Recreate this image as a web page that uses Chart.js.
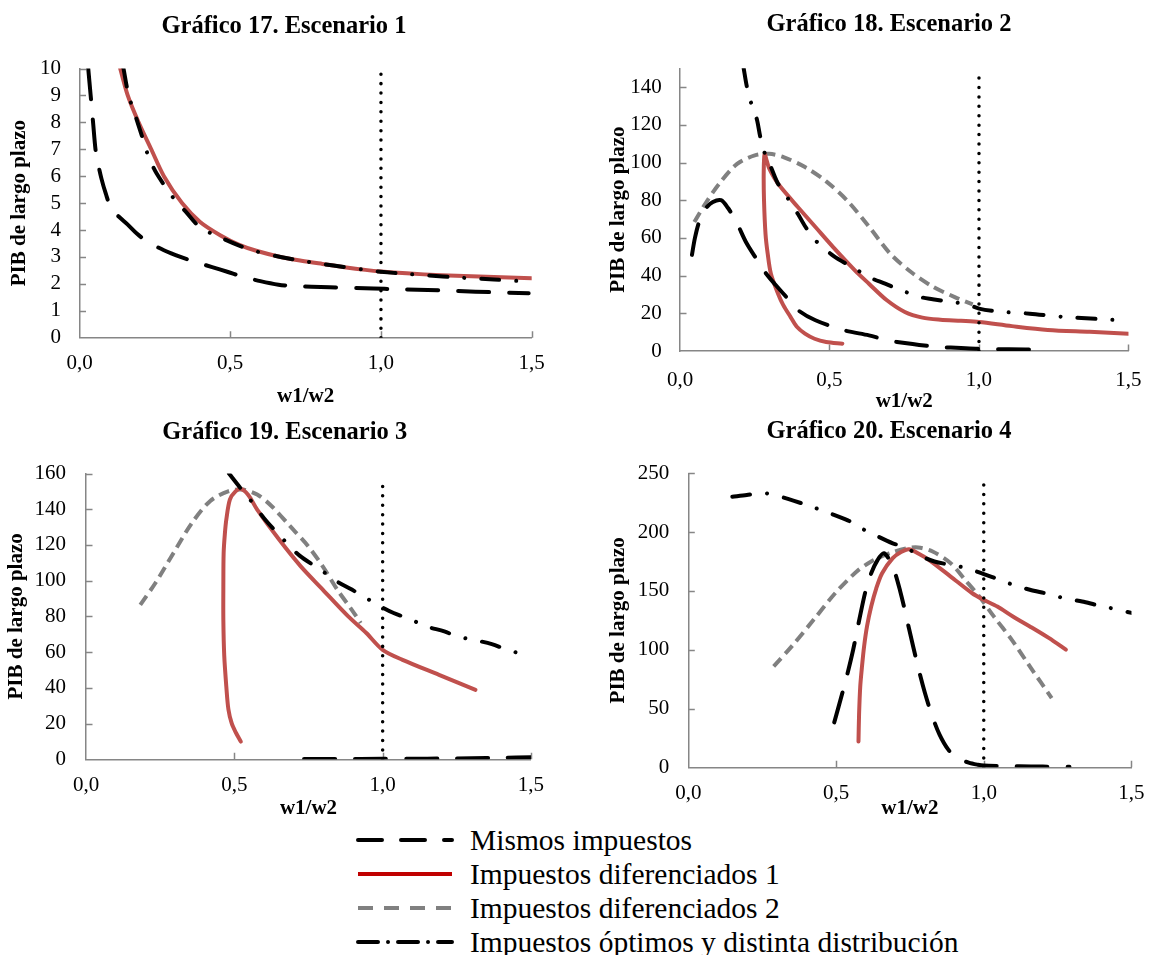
<!DOCTYPE html>
<html lang="es">
<head>
<meta charset="utf-8">
<title>PIB de largo plazo por escenario</title>
<script src="https://cdn.jsdelivr.net/npm/chart.js@4/dist/chart.umd.min.js"></script>
<style>
  html, body { margin: 0; padding: 0; background: #ffffff; }
  #page { position: relative; width: 1158px; height: 955px; overflow: hidden; }
  #page > canvas { position: absolute; }
  .leg-row { position: absolute; left: 356px; width: 760px; height: 34px; white-space: nowrap; }
  .leg-row canvas { position: absolute; left: 0; top: 11px; }
  .leg-row span { position: absolute; left: 114px; top: 0; font: 29.5px/34px "Liberation Serif", "Times New Roman", serif; color: #000; }
</style>
</head>
<body>
<div id="page"></div>
<script>
// ---- values (w1/w2, PIB de largo plazo) ----
const titles = ['Gráfico 17. Escenario 1', 'Gráfico 18. Escenario 2', 'Gráfico 19. Escenario 3', 'Gráfico 20. Escenario 4'];
const seriesNames = ['Mismos impuestos', 'Impuestos diferenciados 1', 'Impuestos diferenciados 2', 'Impuestos óptimos y distinta distribución'];

const xTicks = [0, 0.5, 1.0, 1.5];
const yTicks17 = [0, 1, 2, 3, 4, 5, 6, 7, 8, 9, 10];
const yTicks18 = [0, 20, 40, 60, 80, 100, 120, 140];
const yTicks19 = [0, 20, 40, 60, 80, 100, 120, 140, 160];
const yTicks20 = [0, 50, 100, 150, 200, 250];
const yMax = [10, 150, 160, 250];
const dotTop = [10, 148, 156, 245];   // top of the w1/w2 = 1 reference line

// Escenario 1
const mismos17 = [[0.029,10],[0.033,9.5],[0.037,9],[0.041,8.5],[0.045,8],[0.053,7],[0.059,6.6],[0.073,5.9],[0.087,5.36],[0.105,4.8],[0.13,4.5],[0.16,4.2],[0.19,3.87],[0.226,3.56],[0.28,3.25],[0.335,3.0],[0.383,2.82],[0.44,2.62],[0.49,2.45],[0.54,2.27],[0.60,2.1],[0.66,1.97],[0.71,1.92],[0.83,1.87],[0.976,1.83],[1.048,1.8],[1.193,1.76],[1.314,1.71],[1.49,1.65]];
const dif1_17 = [[0.135,10],[0.16,9],[0.196,8],[0.238,7],[0.28,6],[0.34,5],[0.40,4.3],[0.468,3.8],[0.53,3.45],[0.589,3.22],[0.667,3.0],[0.736,2.86],[0.806,2.74],[0.879,2.62],[0.948,2.52],[1.0,2.46],[1.085,2.39],[1.2,2.32],[1.35,2.26],[1.5,2.21]];
const optimos17 = [[0.146,10],[0.163,9.0],[0.184,8.3],[0.208,7.46],[0.23,6.7],[0.256,6.1],[0.311,5.2],[0.351,4.7],[0.40,4.1],[0.468,3.72],[0.53,3.42],[0.589,3.2],[0.667,3.0],[0.736,2.86],[0.806,2.74],[0.879,2.62],[0.948,2.52],[1.0,2.45],[1.085,2.37],[1.16,2.31],[1.25,2.24],[1.375,2.16],[1.5,2.08]];

// Escenario 2
const mismos18 = [[0.04,51],[0.05,60],[0.065,69],[0.085,75.5],[0.11,79],[0.137,80],[0.16,76],[0.19,68],[0.22,58],[0.255,49],[0.286,41.5],[0.32,35],[0.346,30.4],[0.394,21.8],[0.453,16.3],[0.549,11],[0.632,8.3],[0.70,5.5],[0.752,4.2],[0.80,3.2],[0.871,2.1],[0.94,1.6],[1.0,1.2],[1.1,0.9],[1.21,0.7]];
const dif1_18 = [[0.543,3.9],[0.489,4.8],[0.45,6.5],[0.418,9.2],[0.39,13],[0.37,18],[0.345,24.5],[0.328,30.4],[0.304,41],[0.293,52],[0.286,62.2],[0.281,80],[0.28,95],[0.283,104.5],[0.29,101],[0.298,97],[0.315,92],[0.334,87.5],[0.394,76.4],[0.453,65.8],[0.513,55],[0.585,42.8],[0.632,35.7],[0.692,26.9],[0.752,20.7],[0.811,17.7],[0.871,16.6],[0.94,16],[1.0,15.4],[1.11,13.2],[1.23,11.2],[1.37,10.2],[1.5,9.2]];
const dif2_18 = [[0.048,68.4],[0.084,78],[0.131,88.7],[0.191,99.3],[0.25,103.8],[0.298,104.6],[0.346,102.9],[0.418,97.6],[0.489,90],[0.561,79.5],[0.632,66],[0.704,51.5],[0.776,41.5],[0.847,34],[0.919,28.6],[0.979,24.7]];
const optimos18 = [[0.213,150],[0.224,140],[0.239,131],[0.257,123],[0.268,114],[0.284,104.6],[0.304,97.6],[0.328,88.7],[0.358,81.7],[0.394,72.8],[0.42,65.8],[0.453,58.7],[0.513,50.5],[0.585,43.7],[0.632,39.2],[0.686,35.7],[0.74,32.2],[0.805,28.6],[0.845,27.5],[0.907,26],[0.96,24.8],[1.0,22.5],[1.06,21],[1.17,19.8],[1.289,18],[1.396,17],[1.5,16]];

// Escenario 3
const mismos19 = [[0.735,0.2],[0.85,0.2],[1.0,0.25],[1.1,0.3],[1.2,0.4],[1.3,0.6],[1.4,0.85],[1.5,1.2]];
const dif1_19 = [[0.522,9.9],[0.505,15],[0.491,20.2],[0.48,28],[0.473,40.7],[0.466,58],[0.463,78],[0.463,97],[0.464,115.5],[0.468,126],[0.473,134.2],[0.485,145.4],[0.504,150],[0.522,151.4],[0.547,148],[0.577,139.8],[0.651,123],[0.724,108],[0.798,95],[0.884,80],[0.945,70.7],[1.0,61.3],[1.067,55.7],[1.19,47.3],[1.313,38.9]];
const dif2_19 = [[0.183,86.5],[0.234,98.7],[0.295,115.5],[0.357,132.3],[0.418,144.5],[0.479,150],[0.528,151],[0.577,148.2],[0.626,141.7],[0.688,130.5],[0.749,119.3],[0.798,108],[0.847,95],[0.896,83.7],[0.926,76.3]];
const optimos19 = [[0.482,160],[0.52,152],[0.553,145.4],[0.60,135],[0.66,124],[0.72,114],[0.794,105.8],[0.835,100.6],[0.896,95],[0.939,90.8],[0.993,85.6],[1.037,81.9],[1.092,78.5],[1.147,74.4],[1.208,71.6],[1.251,68.8],[1.306,66.9],[1.368,64.5],[1.417,61.5],[1.46,59.4],[1.5,57.8]];

// Escenario 4
const mismos20 = [[0.494,38.2],[0.509,51.8],[0.535,76],[0.558,100],[0.58,127],[0.60,150],[0.619,165],[0.64,176],[0.662,182],[0.69,172],[0.717,150],[0.747,118],[0.775,88],[0.80,64],[0.825,44],[0.85,28],[0.88,15],[0.91,8],[0.949,4],[0.98,2.2],[1.0,1.5],[1.06,1.1],[1.12,0.8],[1.2,0.6],[1.29,0.4]];
const dif1_20 = [[0.576,22],[0.578,45],[0.582,68.8],[0.588,86],[0.595,102.8],[0.605,120],[0.619,136.7],[0.636,152],[0.656,165],[0.692,177.8],[0.72,183],[0.747,185.4],[0.78,181.5],[0.814,176.4],[0.888,162.2],[0.961,148],[1.0,142.4],[1.046,136.7],[1.10,128],[1.156,119.8],[1.22,110],[1.278,100]];
const dif2_20 = [[0.289,85.8],[0.35,102.8],[0.424,125.4],[0.497,148],[0.57,166.5],[0.619,175],[0.68,182],[0.741,186.3],[0.778,186.9],[0.827,183.5],[0.888,173.6],[0.937,159.4],[0.985,145.2],[1.034,128.3],[1.095,108.4],[1.156,85.8],[1.23,58.9]];
const optimos20 = [[0.149,230],[0.198,231.6],[0.263,233],[0.34,228],[0.424,221],[0.479,216],[0.54,210],[0.58,204],[0.631,197.6],[0.692,190.5],[0.735,187],[0.778,180.6],[0.833,175],[0.89,172],[0.943,169.3],[0.998,164.5],[1.055,159.4],[1.101,155],[1.156,151],[1.217,147.5],[1.272,143.8],[1.333,141],[1.382,138],[1.431,135.3],[1.5,131.3]];

const yTicksByPanel = [yTicks17, yTicks18, yTicks19, yTicks20];
const seriesByPanel = [
  {mismos: mismos17, dif1: dif1_17, dif2: null,    optimos: optimos17},
  {mismos: mismos18, dif1: dif1_18, dif2: dif2_18, optimos: optimos18},
  {mismos: mismos19, dif1: dif1_19, dif2: dif2_19, optimos: optimos19},
  {mismos: mismos20, dif1: dif1_20, dif2: dif2_20, optimos: optimos20}
];

// ---- look ----
const AXIS = '#868686';
const FONT = '"Liberation Serif", "Times New Roman", serif';
const TITLE_SIZE = 24.5, AXIS_TITLE_SIZE = 21, TICK_SIZE = 21, LH = 1.2;

const lineStyles = {
  unidad:  {borderColor: '#000000', borderWidth: 3.5, borderDash: [0.01, 9.4], borderCapStyle: 'round'},
  optimos: {borderColor: '#000000', borderWidth: 4, borderDash: [18, 17, 0.01, 17], borderCapStyle: 'round'},
  mismos:  {borderColor: '#000000', borderWidth: 4, borderDash: [31, 20], borderCapStyle: 'round'},
  dif1:    {borderColor: '#C0504D', borderWidth: 4, borderDash: [], borderCapStyle: 'round'},
  dif2:    {borderColor: '#808080', borderWidth: 4, borderDash: [11, 6], borderCapStyle: 'butt'}
};
const legendStyles = [
  {color: '#000000', dash: [24, 19], cap: 'round'},
  {color: '#C00000', dash: [], cap: 'butt'},
  {color: '#808080', dash: [15, 11], cap: 'butt'},
  {color: '#000000', dash: [20, 10, 0.01, 10], cap: 'round'}
];

// where each panel sits on the page (plot area = [left, top, right, bottom])
const layouts = [
  {left: 0,   top: 0,   width: 558, area: [79.5, 68.5, 538, 337.7],      titleAt: [284, 26.5],    yTitleX: 20,    xTickY: 363.5, xTitleY: 396.7, yGap: 18.5},
  {left: 600, top: 0,   width: 558, area: [680, 68.3, 1143, 351],        titleAt: [889, 25],      yTitleX: 618.8, xTickY: 380,   xTitleY: 401.7, yGap: 18.3},
  {left: 0,   top: 410, width: 558, area: [86, 473.5, 537.5, 759.3],     titleAt: [284.7, 432.5], yTitleX: 16.6,  xTickY: 785.8, xTitleY: 808.3, yGap: 20},
  {left: 600, top: 410, width: 558, area: [688.3, 473.3, 1140.7, 767.3], titleAt: [889, 432],     yTitleX: 618.8, xTickY: 793.3, xTitleY: 809,   yGap: 19}
];

Chart.defaults.font.family = FONT;
Chart.defaults.color = '#000';

// small tick marks pointing into the plot
const insideTicks = {
  id: 'insideTicks',
  beforeDatasetsDraw(chart) {
    const {ctx, chartArea, scales} = chart;
    const len = 6.5;
    ctx.save();
    ctx.strokeStyle = AXIS;
    ctx.lineWidth = 1.5;
    ctx.beginPath();
    scales.y.ticks.forEach(t => {
      if (t.value === 0) return;
      const y = Math.round(scales.y.getPixelForValue(t.value)) + 0.5;
      ctx.moveTo(chartArea.left, y);
      ctx.lineTo(chartArea.left + len, y);
    });
    scales.x.ticks.forEach(t => {
      if (t.value === 0) return;
      const x = Math.round(scales.x.getPixelForValue(t.value)) + 0.5;
      ctx.moveTo(x, chartArea.bottom);
      ctx.lineTo(x, chartArea.bottom - len);
    });
    ctx.stroke();
    ctx.restore();
  }
};

// panel heading, centred over the whole chart object rather than the plot
const panelTitle = {
  id: 'panelTitle',
  afterDraw(chart, args, opts) {
    const ctx = chart.ctx;
    ctx.save();
    ctx.font = 'bold ' + opts.size + 'px ' + FONT;
    ctx.fillStyle = '#000';
    ctx.textAlign = 'center';
    ctx.textBaseline = 'middle';
    ctx.fillText(opts.text, opts.x, opts.y);
    ctx.restore();
  }
};

function curve(points, style) {
  return Object.assign({
    data: points.map(p => ({x: p[0], y: p[1]})),
    showLine: true,
    pointRadius: 0,
    pointHoverRadius: 0,
    tension: 0.3,
    fill: false,
    borderJoinStyle: 'round'
  }, style);
}

function buildPanel(i) {
  const L = layouts[i];
  const [aLeft, aTop, aRight, aBottom] = L.area;
  const page = document.getElementById('page');
  const canvas = document.createElement('canvas');

  const padR = L.left + L.width - aRight;
  const yWidth = aLeft - L.left;
  const xBottom = L.xTitleY + AXIS_TITLE_SIZE * LH / 2;
  const xHeight = xBottom - aBottom;
  const height = Math.ceil(xBottom - L.top);
  const padB = height - (xBottom - L.top);

  canvas.width = L.width;
  canvas.height = height;
  canvas.style.left = L.left + 'px';
  canvas.style.top = L.top + 'px';
  page.appendChild(canvas);

  const s = seriesByPanel[i];
  const datasets = [curve([[1, 0], [1, dotTop[i]]], Object.assign({}, lineStyles.unidad, {tension: 0}))];
  datasets.push(curve(s.optimos, lineStyles.optimos));
  datasets.push(curve(s.mismos, lineStyles.mismos));
  datasets.push(curve(s.dif1, lineStyles.dif1));
  if (s.dif2) datasets.push(curve(s.dif2, lineStyles.dif2));

  const yVals = yTicksByPanel[i];

  new Chart(canvas, {
    type: 'scatter',
    data: {datasets: datasets},
    plugins: [insideTicks, panelTitle],
    options: {
      responsive: false,
      animation: false,
      devicePixelRatio: 1,
      events: [],
      layout: {padding: {left: 0, right: padR, top: aTop - L.top, bottom: padB}},
      plugins: {
        legend: {display: false},
        tooltip: {enabled: false},
        title: {display: false},
        panelTitle: {text: titles[i], size: TITLE_SIZE, x: L.titleAt[0] - L.left, y: L.titleAt[1] - L.top}
      },
      scales: {
        x: {
          type: 'linear',
          min: 0,
          max: 1.5,
          grid: {display: false, drawTicks: false},
          border: {display: true, color: AXIS, width: 1.5},
          afterBuildTicks: sc => { sc.ticks = xTicks.map(v => ({value: v})); },
          afterFit: sc => { sc.height = xHeight; },
          ticks: {
            autoSkip: false,
            padding: L.xTickY - aBottom - TICK_SIZE * LH / 2,
            maxRotation: 0,
            font: {size: TICK_SIZE, lineHeight: LH},
            callback: v => v.toFixed(1).replace('.', ',')
          },
          title: {
            display: true,
            text: 'w1/w2',
            font: {size: AXIS_TITLE_SIZE, weight: 'bold', lineHeight: LH},
            padding: {top: 0, bottom: 0}
          }
        },
        y: {
          type: 'linear',
          min: 0,
          max: yMax[i],
          grid: {display: false, drawTicks: false},
          border: {display: true, color: AXIS, width: 1.5},
          afterBuildTicks: sc => { sc.ticks = yVals.map(v => ({value: v})); },
          afterFit: sc => { sc.width = yWidth; },
          ticks: {
            autoSkip: false,
            padding: L.yGap,
            font: {size: TICK_SIZE, lineHeight: LH},
            callback: v => String(v)
          },
          title: {
            display: true,
            text: 'PIB de largo plazo',
            font: {size: AXIS_TITLE_SIZE, weight: 'bold', lineHeight: LH},
            padding: {top: L.yTitleX - L.left - AXIS_TITLE_SIZE * LH / 2, bottom: 0}
          }
        }
      }
    }
  });
}

function buildLegend() {
  const page = document.getElementById('page');
  const rowCenters = [840, 874, 908, 942];
  seriesNames.forEach((name, i) => {
    const row = document.createElement('div');
    row.className = 'leg-row';
    row.style.top = (rowCenters[i] - 17) + 'px';
    const c = document.createElement('canvas');
    c.width = 100;
    c.height = 12;
    const ctx = c.getContext('2d');
    const st = legendStyles[i];
    ctx.strokeStyle = st.color;
    ctx.lineWidth = 4;
    ctx.lineCap = st.cap;
    ctx.setLineDash(st.dash);
    ctx.beginPath();
    ctx.moveTo(2, 6);
    ctx.lineTo(96, 6);
    ctx.stroke();
    const label = document.createElement('span');
    label.textContent = name;
    row.appendChild(c);
    row.appendChild(label);
    page.appendChild(row);
  });
}

for (let i = 0; i < 4; i++) buildPanel(i);
buildLegend();
</script>
</body>
</html>
